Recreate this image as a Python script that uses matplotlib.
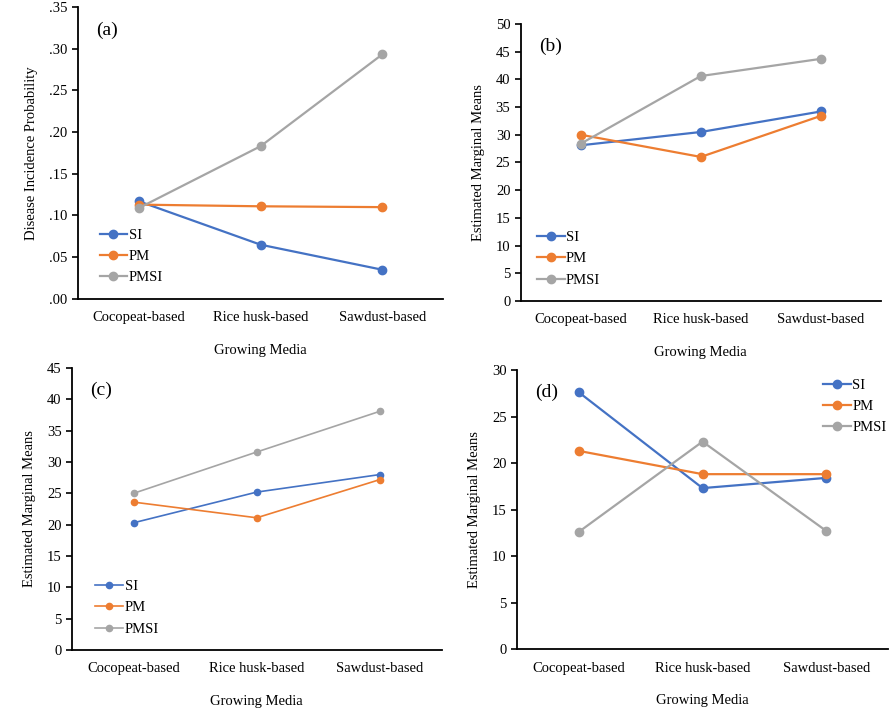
import matplotlib
matplotlib.use("Agg")
import matplotlib.pyplot as plt
from matplotlib.ticker import FuncFormatter

plt.rcParams["font.family"] = ["Liberation Serif", "DejaVu Serif"]

media = ["Cocopeat-based", "Rice husk-based", "Sawdust-based"]
series_names = ["SI", "PM", "PMSI"]

# (a) disease incidence probability
a_si = [0.117, 0.065, 0.035]
a_pm = [0.113, 0.111, 0.110]
a_pmsi = [0.109, 0.183, 0.293]

# (b) estimated marginal means
b_si = [28.1, 30.5, 34.2]
b_pm = [30.0, 26.0, 33.4]
b_pmsi = [28.4, 40.6, 43.7]

# (c)
c_si = [20.3, 25.2, 28.0]
c_pm = [23.6, 21.1, 27.2]
c_pmsi = [25.0, 31.6, 38.1]

# (d)
d_si = [27.6, 17.3, 18.4]
d_pm = [21.3, 18.8, 18.8]
d_pmsi = [12.6, 22.3, 12.7]

colors = ["#4472C4", "#ED7D31", "#A5A5A5"]

fig = plt.figure(figsize=(8.95, 7.11), dpi=100)

panels = [
    dict(rect=[0.0872, 0.5795, 0.408, 0.411], data=[a_si, a_pm, a_pmsi],
         ylim=(0, 0.35), step=0.05, tag="(a)", ylabel="Disease Incidence Probability",
         leg=dict(loc="lower left", bbox_to_anchor=(0.035, 0.02)), lw=1.6, ms=6),
    dict(rect=[0.582, 0.5767, 0.402, 0.3896], data=[b_si, b_pm, b_pmsi],
         ylim=(0, 50), step=5, tag="(b)", ylabel="Estimated Marginal Means",
         leg=dict(loc="lower left", bbox_to_anchor=(0.02, 0.02)), lw=1.6, ms=6),
    dict(rect=[0.0804, 0.0858, 0.413, 0.3966], data=[c_si, c_pm, c_pmsi],
         ylim=(0, 45), step=5, tag="(c)", ylabel="Estimated Marginal Means",
         leg=dict(loc="lower left", bbox_to_anchor=(0.04, 0.02)), lw=1.2, ms=4.5),
    dict(rect=[0.5777, 0.0872, 0.4145, 0.3924], data=[d_si, d_pm, d_pmsi],
         ylim=(0, 30), step=5, tag="(d)", ylabel="Estimated Marginal Means",
         leg=dict(loc="upper right", bbox_to_anchor=(1.02, 1.0)), lw=1.6, ms=6),
]

for p in panels:
    ax = fig.add_axes(p["rect"])
    x = range(len(media))
    for vals, name, col in zip(p["data"], series_names, colors):
        ax.plot(x, vals, color=col, lw=p["lw"], marker="o", ms=p["ms"], label=name)
    ax.set_xlim(-0.5, 2.5)
    lo, hi = p["ylim"]
    ax.set_ylim(lo, hi)
    n = int(round((hi - lo) / p["step"]))
    ax.set_yticks([lo + i * p["step"] for i in range(n + 1)])
    if p["tag"] == "(a)":
        ax.yaxis.set_major_formatter(FuncFormatter(lambda v, _: f"{v:.2f}"[1:]))
    ax.set_xticks(list(x))
    ax.set_xticklabels(media, fontsize=10.5)
    ax.tick_params(axis="x", length=0, pad=9)
    ax.tick_params(axis="y", direction="out", length=4, width=1.2, labelsize=10.5)
    for s in ["top", "right"]:
        ax.spines[s].set_visible(False)
    for s in ["left", "bottom"]:
        ax.spines[s].set_linewidth(1.3)
    ax.set_xlabel("Growing Media", fontsize=10.5, labelpad=14)
    ax.set_ylabel(p["ylabel"], fontsize=10.5, labelpad=8)
    ax.text(0.05, 0.92, p["tag"], transform=ax.transAxes, fontsize=14,
            va="center", ha="left")
    ax.legend(frameon=False, fontsize=10.5, handlelength=1.9, handletextpad=0.1,
              labelspacing=0.55, borderaxespad=0.2, **p["leg"])

fig.savefig("out.png", dpi=100)
